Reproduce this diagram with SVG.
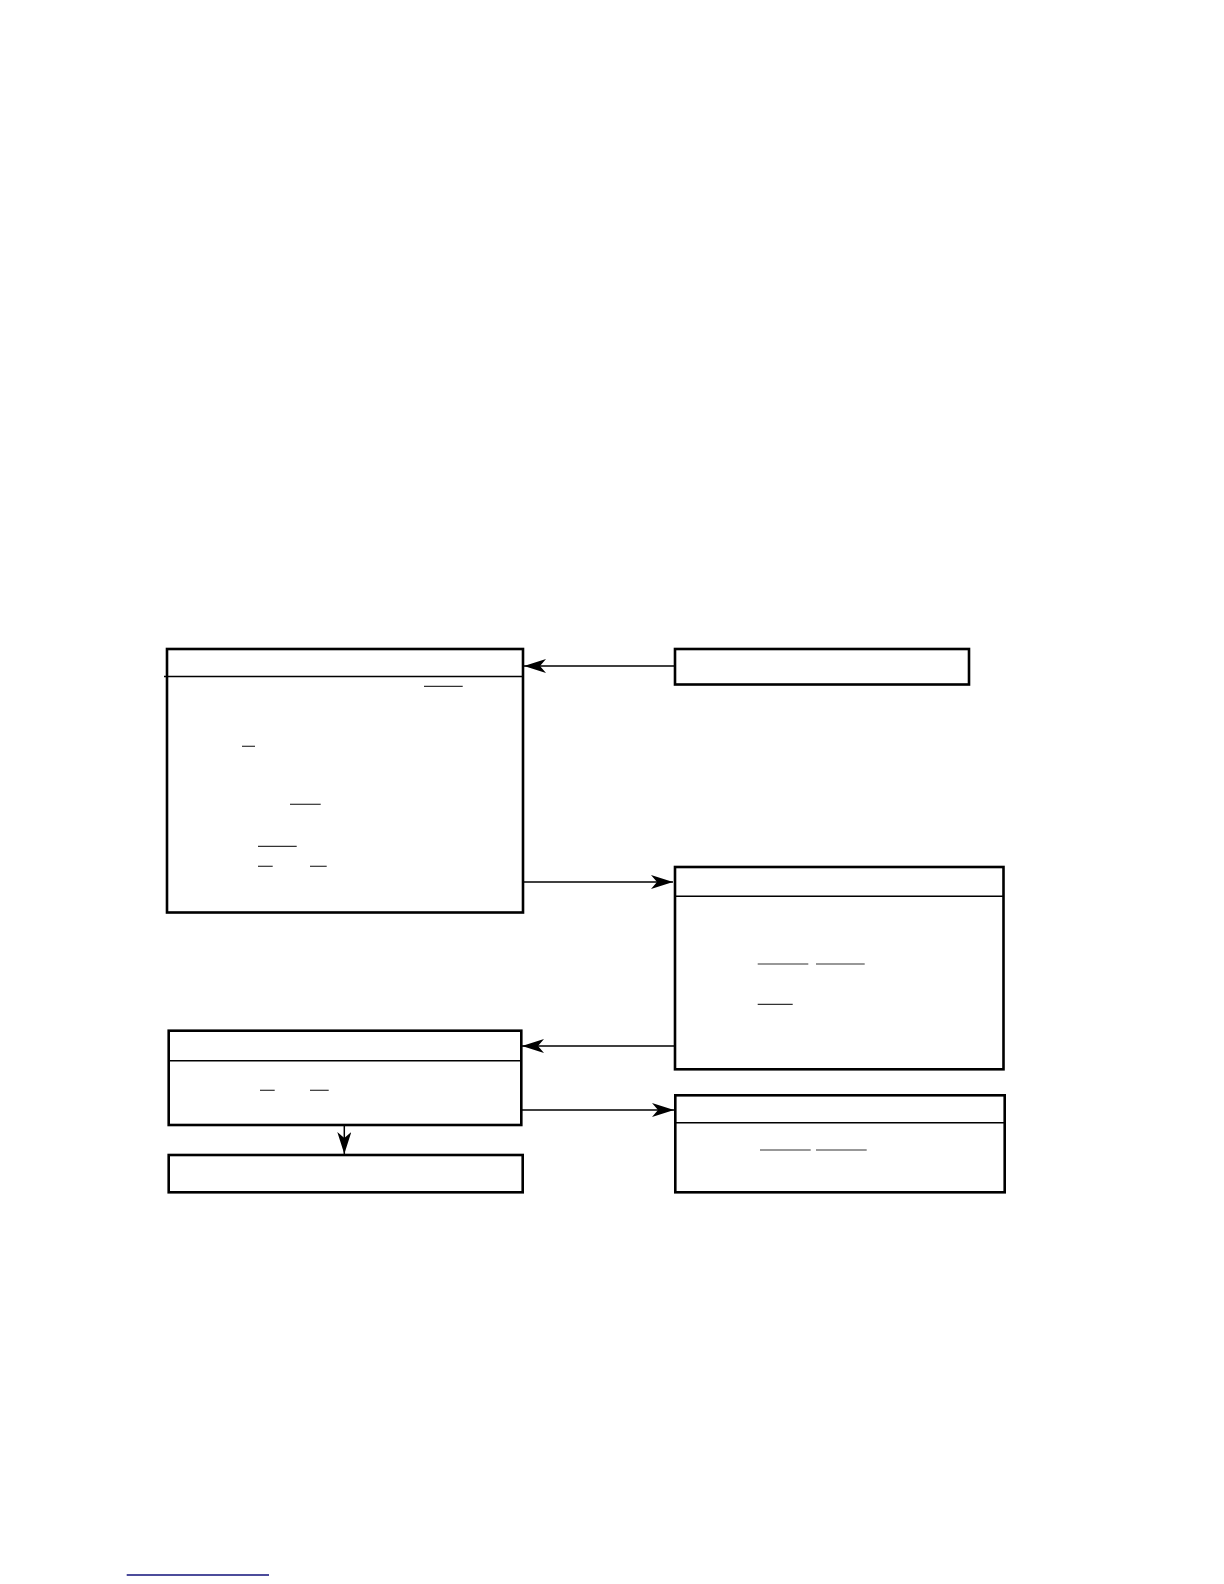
<svg xmlns="http://www.w3.org/2000/svg" width="1224" height="1584" viewBox="0 0 1224 1584">
<style>
.box{fill:#fff;stroke:#000;stroke-width:2.6}
.hdr{stroke:#000;stroke-width:1.6;fill:none}
.bar{stroke:#333;stroke-width:1.2;fill:none}
.con{stroke:#000;stroke-width:1.5;fill:none}
</style>
<defs>
<marker id="ah" viewBox="0 0 22 14" refX="22" refY="7" markerWidth="22" markerHeight="14" markerUnits="userSpaceOnUse" orient="auto">
<path d="M0,0 L22,7 L0,14 L6,7 Z" fill="#000"/>
</marker>
</defs>
<rect width="1224" height="1584" fill="#fff"/>
<g id="connectors">
<line class="con" x1="675" y1="666" x2="524" y2="666" marker-end="url(#ah)"/>
<line class="con" x1="523" y1="882" x2="673" y2="882" marker-end="url(#ah)"/>
<line class="con" x1="675" y1="1046" x2="522" y2="1046" marker-end="url(#ah)"/>
<line class="con" x1="521" y1="1110" x2="674" y2="1110" marker-end="url(#ah)"/>
<line class="con" x1="344.3" y1="1125" x2="344.3" y2="1154" marker-end="url(#ah)"/>
</g>
<g id="node1">
<rect class="box" x="167" y="649" width="356" height="263.5"/>
<line class="hdr" x1="164" y1="676.5" x2="523" y2="676.5"/>
<line class="bar" x1="424" y1="686.3" x2="462.7" y2="686.3"/>
<line class="bar" x1="242" y1="746.3" x2="255" y2="746.3"/>
<line class="bar" x1="290" y1="804.3" x2="320.7" y2="804.3"/>
<line class="bar" x1="258" y1="846.3" x2="296.7" y2="846.3"/>
<line class="bar" x1="258" y1="866.3" x2="272.7" y2="866.3"/>
<line class="bar" x1="310" y1="866.3" x2="326.7" y2="866.3"/>
</g>
<g id="node2">
<rect class="box" x="675" y="649" width="294" height="35.5"/>
</g>
<g id="node3">
<rect class="box" x="675" y="867" width="328.5" height="202.3"/>
<line class="hdr" x1="675" y1="896.3" x2="1003.5" y2="896.3"/>
<line class="bar" x1="757.7" y1="964" x2="808.3" y2="964"/>
<line class="bar" x1="816" y1="964" x2="864.7" y2="964"/>
<line class="bar" x1="757.7" y1="1004.3" x2="792.7" y2="1004.3"/>
</g>
<g id="node4">
<rect class="box" x="168.7" y="1030.7" width="352.6" height="94.3"/>
<line class="hdr" x1="168.7" y1="1060.7" x2="521.3" y2="1060.7"/>
<line class="bar" x1="260" y1="1090.3" x2="274.7" y2="1090.3"/>
<line class="bar" x1="310" y1="1090.3" x2="328.7" y2="1090.3"/>
</g>
<g id="node5">
<rect class="box" x="168.7" y="1155" width="354" height="37.3"/>
</g>
<g id="node6">
<rect class="box" x="675.3" y="1095.3" width="329.4" height="97"/>
<line class="hdr" x1="675.3" y1="1122.7" x2="1004.7" y2="1122.7"/>
<line class="bar" x1="760" y1="1150" x2="810.7" y2="1150"/>
<line class="bar" x1="816" y1="1150" x2="866.7" y2="1150"/>
</g>
<line x1="126.7" y1="1575" x2="269" y2="1575" stroke="#10107a" stroke-width="1.4"/>
</svg>
